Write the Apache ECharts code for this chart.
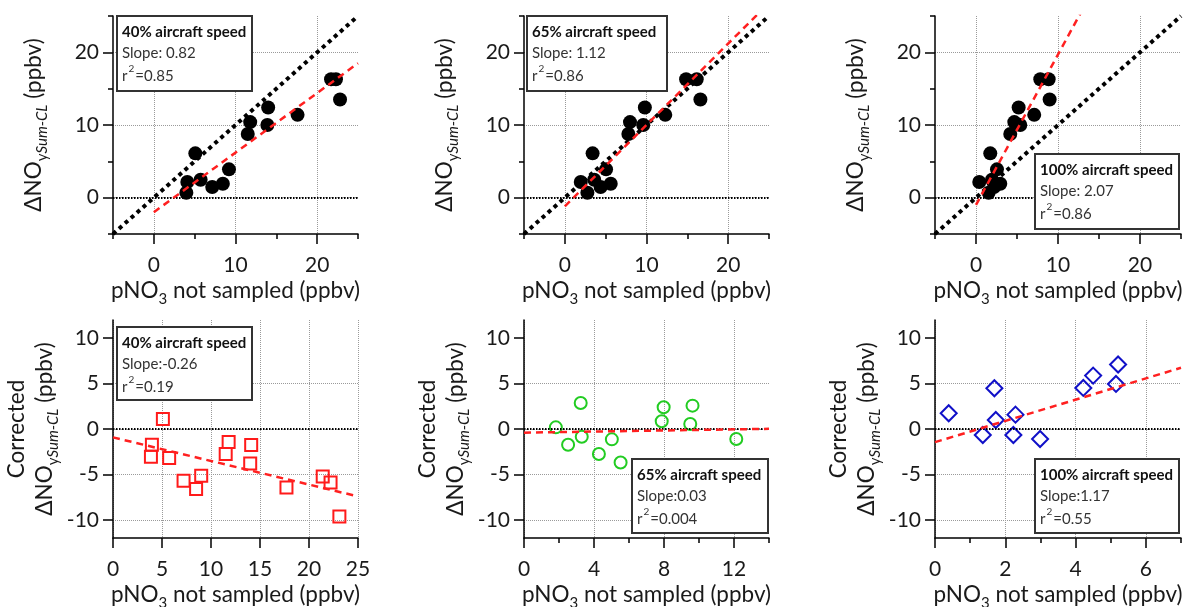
<!DOCTYPE html>
<html><head><meta charset="utf-8">
<script src="https://cdn.jsdelivr.net/npm/echarts@6/dist/echarts.min.js"></script>
<style>html,body{margin:0;padding:0;background:#fff}#c{width:1183px;height:607px}</style>
</head><body><div id="c"></div>
<script>
// ---- data ----
// ΔNOy (ppbv), shared by the three top panels
const dNOy = [0.68, 2.15, 6.1, 2.47, 1.46, 1.92, 3.9, 8.77, 10.4, 10.0, 12.4, 11.4, 16.3, 16.3, 13.5];
// pNO3 not sampled (ppbv) for each aircraft speed (top row)
const pNO3_40 = [3.98, 4.1, 5.08, 5.73, 7.15, 8.45, 9.2, 11.5, 11.8, 13.9, 14.0, 17.6, 21.7, 22.3, 22.8];
const pNO3_65 = [2.76, 1.95, 3.4, 3.6, 4.38, 5.62, 5.05, 7.78, 7.98, 9.6, 9.8, 12.3, 14.85, 16.15, 16.6];
const pNO3_100 = [1.54, 0.4, 1.74, 1.95, 2.2, 2.96, 2.56, 4.18, 4.67, 5.4, 5.2, 7.1, 7.84, 8.86, 8.98];
// Corrected ΔNOy (bottom row)
const corr40x = [5.09, 3.97, 3.87, 5.73, 7.2, 8.48, 9.0, 11.5, 11.8, 14.0, 14.1, 17.7, 21.4, 22.2, 23.1];
const corr40y = [1.1, -1.73, -3.05, -3.2, -5.7, -6.6, -5.15, -2.76, -1.43, -3.79, -1.76, -6.43, -5.22, -5.88, -9.63];
const corr65x = [1.82, 2.52, 3.24, 3.3, 4.28, 5.02, 5.52, 7.87, 7.98, 9.5, 9.63, 12.13];
const corr65y = [0.18, -1.73, 2.87, -0.85, -2.76, -1.14, -3.68, 0.85, 2.39, 0.55, 2.57, -1.1];
const corr100x = [0.39, 1.36, 1.69, 1.73, 2.29, 2.23, 2.99, 4.22, 4.5, 5.15, 5.21];
const corr100y = [1.73, -0.66, 4.49, 0.99, 1.58, -0.66, -1.1, 4.52, 5.88, 4.96, 7.1];
// fit lines (slope, intercept)
const fitSlope = [0.82, 1.12, 2.07, -0.26, 0.03, 1.17];
const fitIntercept = [-2.0, -1.2, -1.0, -0.92, -0.4, -1.45];
// 1:1 reference line extent
const oneToOne = [-5, 25];
// legend texts
const legendTitle = ['40% aircraft speed', '65% aircraft speed', '100% aircraft speed', '40% aircraft speed', '65% aircraft speed', '100% aircraft speed'];
const legendSlope = ['Slope: 0.82', 'Slope: 1.12', 'Slope: 2.07', 'Slope:-0.26', 'Slope:0.03', 'Slope:1.17'];
const legendR2 = ['0.85', '0.86', '0.86', '0.19', '0.004', '0.55'];
// tick labels
const topMajor = [0, 10, 20], topMinor = [-5, 5, 15, 25];
const corrYMajor = [-10, -5, 0, 5, 10];
const x40Major = [0, 5, 10, 15, 20, 25];
const x65Major = [0, 4, 8, 12], x65Minor = [2, 6, 10, 14];
const x100Major = [0, 2, 4, 6], x100Minor = [1, 3, 5, 7];

// ---- styling / layout ----
const FONT = 'Lato, "Open Sans", sans-serif';
const INK = '#1a1a1a';
const zip = (xs, ys) => xs.map((x, i) => [x, ys[i]]);

const nameRich = {
  n: {fontSize: 22.5, fontFamily: FONT, color: INK, lineHeight: 28, verticalAlign: 'top'},
  s: {fontSize: 15, fontFamily: FONT, color: INK, lineHeight: 15, verticalAlign: 'bottom', padding: [15, 0, 0, 0]},
  si: {fontSize: 15, fontFamily: FONT, color: INK, lineHeight: 15, verticalAlign: 'bottom', padding: [15, 0, 0, 0], fontStyle: 'italic'}
};
const xName = '{n|pNO}{s|3}{n| not sampled (ppbv)}';
const yNameTop = '{n|ΔNO}{s|y}{si|Sum-CL}{n| (ppbv)}';
const yNameBot = '{n|Corrected}\n{n|ΔNO}{s|y}{si|Sum-CL}{n| (ppbv)}';

const panels = [
  {rect: [113, 16, 245, 218], x: [-5, 25, 5, topMajor, topMinor], y: [-5, 25, 5, topMajor, topMinor], yName: yNameTop,
   data: zip(pNO3_40, dNOy), sym: 'circle', size: 14, fill: '#000', stroke: '#000', bw: 0, ref: true, fitX: [0, 25],
   box: [117, 16, 135, 75]},
  {rect: [524, 16, 245, 218], x: [-5, 25, 5, topMajor, topMinor], y: [-5, 25, 5, topMajor, topMinor], yName: yNameTop,
   data: zip(pNO3_65, dNOy), sym: 'circle', size: 14, fill: '#000', stroke: '#000', bw: 0, ref: true, fitX: [0, 25],
   box: [527, 16, 140, 75]},
  {rect: [935, 16, 246, 218], x: [-5, 25, 5, topMajor, topMinor], y: [-5, 25, 5, topMajor, topMinor], yName: yNameTop,
   data: zip(pNO3_100, dNOy), sym: 'circle', size: 14, fill: '#000', stroke: '#000', bw: 0, ref: true, fitX: [0, 25],
   box: [1035, 154, 144, 75]},
  {rect: [113, 320, 245, 218], x: [0, 25, 5, x40Major, []], y: [-12, 12, null, corrYMajor, []], yName: yNameBot,
   data: zip(corr40x, corr40y), sym: 'rect', size: 12, fill: 'rgba(0,0,0,0)', stroke: '#ff1a1a', bw: 2, ref: false, fitX: [0, 25],
   box: [117, 327, 135, 73]},
  {rect: [524, 320, 245, 218], x: [0, 14, 2, x65Major, x65Minor], y: [-12, 12, null, corrYMajor, []], yName: yNameBot,
   data: zip(corr65x, corr65y), sym: 'circle', size: 12, fill: 'rgba(0,0,0,0)', stroke: '#22cc22', bw: 2, ref: false, fitX: [0, 14],
   box: [632, 459, 136, 74]},
  {rect: [935, 320, 246, 218], x: [0, 7, 1, x100Major, x100Minor], y: [-12, 12, null, corrYMajor, []], yName: yNameBot,
   data: zip(corr100x, corr100y), sym: 'diamond', size: 16, fill: 'rgba(0,0,0,0)', stroke: '#1010c8', bw: 2, ref: false, fitX: [0, 7],
   box: [1035, 459, 144, 74]}
];

const grid = [], xAxis = [], yAxis = [], series = [], graphic = [];
const axLine = {show: true, onZero: false, lineStyle: {color: '#000', width: 1.5}};
const split = {show: true, showMaxLine: true, lineStyle: {color: '#9a9a9a', type: 'dotted', width: 1}};

panels.forEach((p, i) => {
  const [l, t, w, h] = p.rect;
  grid.push({left: l, top: t, width: w, height: h, containLabel: false, outerBoundsMode: 'none'});
  const [xmn, xmx, xst, xMaj] = p.x;
  const [ymn, ymx, yst, yMaj] = p.y;
  const isBot = i >= 3;
  xAxis.push({
    gridIndex: i, type: 'value', min: xmn, max: xmx, interval: xst, position: 'bottom',
    axisLine: axLine,
    axisTick: {show: true, customValues: xMaj, length: 10, lineStyle: {color: '#000', width: 1.5}},
    axisLabel: {customValues: xMaj, margin: 21, fontSize: 21, color: INK, fontFamily: FONT},
    splitLine: split,
    name: xName, nameLocation: 'middle', nameGap: 45, nameTextStyle: {rich: nameRich}
  });
  const yax = {
    gridIndex: i, type: 'value', min: ymn, max: ymx, position: 'left',
    axisLine: axLine,
    axisTick: {show: true, customValues: yMaj, length: 10, lineStyle: {color: '#000', width: 1.5}},
    axisLabel: {customValues: yMaj, margin: 14, fontSize: 21, color: INK, fontFamily: FONT},
    splitLine: Object.assign({}, split, {showMaxLine: !isBot}),
    name: p.yName, nameLocation: 'middle', nameRotate: 90, nameGap: isBot ? 52 : 63, nameTextStyle: {rich: nameRich}
  };
  if (yst) yax.interval = yst; else yax.splitNumber = 5;
  yAxis.push(yax);

  // zero line + points
  series.push({
    type: 'scatter', xAxisIndex: i, yAxisIndex: i, data: p.data, symbol: p.sym, symbolSize: p.size, z: 3,
    itemStyle: {color: p.fill, borderColor: p.stroke, borderWidth: p.bw, opacity: 1},
    emphasis: {disabled: true},
    markLine: {silent: true, symbol: 'none', animation: false, label: {show: false},
      lineStyle: {color: '#000', type: [1.5, 1.5], width: 2}, data: [{yAxis: 0}]}
  });
  if (p.ref) {
    series.push({
      type: 'line', xAxisIndex: i, yAxisIndex: i, data: oneToOne.map(v => [v, v]), showSymbol: false, z: 4,
      lineStyle: {color: '#000', width: 4, type: [4, 4]}, silent: true, animation: false
    });
  }
  series.push({
    type: 'line', xAxisIndex: i, yAxisIndex: i, showSymbol: false, z: 5, clip: true,
    data: p.fitX.map(x => [x, fitIntercept[i] + fitSlope[i] * x]),
    lineStyle: {color: '#ff2020', width: 2.5, type: [7, 5]}, silent: true, animation: false
  });

  // legend box
  const [bx, by, bw, bh] = p.box;
  graphic.push({type: 'rect', z: 100, shape: {x: bx, y: by, width: bw, height: bh},
    style: {fill: '#fff', stroke: '#333', lineWidth: 2}});
  graphic.push({type: 'text', z: 101, x: bx + 5, y: by + 6, style: {
    text: `{b|${legendTitle[i]}}\n{t|${legendSlope[i]}}\n{tr|r}{sup|2}{tr|=${legendR2[i]}}`,
    rich: {
      b: {fontSize: 15, fontWeight: 'bold', fontFamily: FONT, fill: '#111', lineHeight: 21},
      t: {fontSize: 15, fontFamily: FONT, fill: '#333', lineHeight: 21},
      tr: {fontSize: 15, fontFamily: FONT, fill: '#333', lineHeight: 20, verticalAlign: 'bottom'},
      sup: {fontSize: 10, fontFamily: FONT, fill: '#333', lineHeight: 10, verticalAlign: 'top', padding: [0, 1, 13, 1]}
    }
  }});
});

// overlay grids carrying the short (minor) ticks
panels.forEach((p, i) => {
  const [l, t, w, h] = p.rect;
  const gi = panels.length + i;
  grid.push({left: l, top: t, width: w, height: h, containLabel: false, outerBoundsMode: 'none'});
  const [xmn, xmx, , , xMin] = p.x;
  const [ymn, ymx, , , yMin] = p.y;
  const hasX = xMin.length > 0, hasY = yMin.length > 0;
  xAxis.push({gridIndex: gi, type: 'value', min: xmn, max: xmx, position: 'bottom', show: hasX,
    axisLine: {show: true, onZero: false, lineStyle: {color: 'rgba(0,0,0,0)'}},
    axisLabel: {show: true, customValues: hasX ? xMin : [], color: 'rgba(0,0,0,0)'}, splitLine: {show: false},
    axisTick: {show: true, customValues: hasX ? xMin : [], length: 5, lineStyle: {color: '#000', width: 1.5}}});
  yAxis.push({gridIndex: gi, type: 'value', min: ymn, max: ymx, position: 'left', show: hasY,
    axisLine: {show: true, onZero: false, lineStyle: {color: 'rgba(0,0,0,0)'}},
    axisLabel: {show: true, customValues: hasY ? yMin : [], color: 'rgba(0,0,0,0)'}, splitLine: {show: false},
    axisTick: {show: true, customValues: hasY ? yMin : [], length: 5, lineStyle: {color: '#000', width: 1.5}}});
  series.push({type: 'scatter', xAxisIndex: gi, yAxisIndex: gi, data: [], silent: true});
});

const chart = echarts.init(document.getElementById('c'), null, {renderer: 'canvas'});
chart.setOption({animation: false, backgroundColor: '#fff', grid, xAxis, yAxis, series, graphic});
</script></body></html>
